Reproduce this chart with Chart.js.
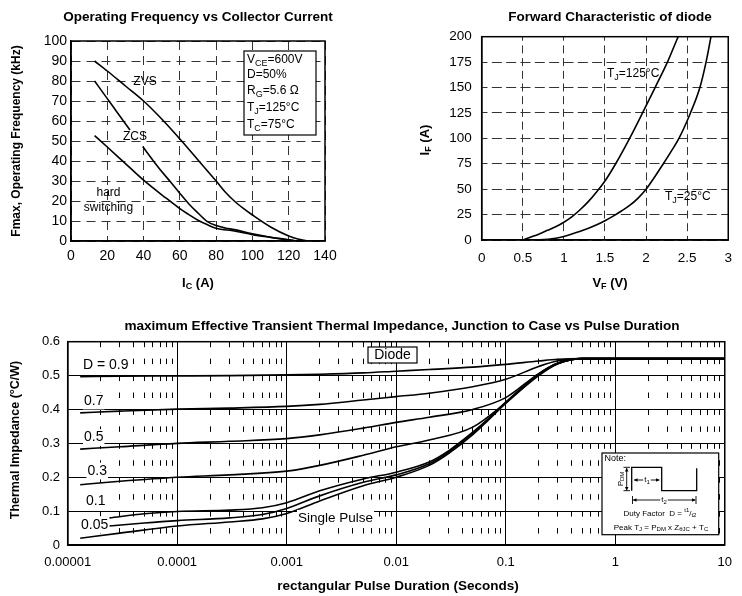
<!DOCTYPE html>
<html>
<head>
<meta charset="utf-8">
<title>IGBT module curves</title>
<script src="https://cdn.jsdelivr.net/npm/chart.js@4"></script>
<style>
  html, body { margin: 0; padding: 0; background: #fff; }
  body { position: relative; width: 742px; height: 596px; overflow: hidden; }
  canvas { position: absolute; }
</style>
</head>
<body>
<canvas id="freq" width="350" height="295" style="left:0;top:0"></canvas>
<canvas id="diode" width="342" height="295" style="left:400px;top:0"></canvas>
<canvas id="zth" width="742" height="296" style="left:0;top:300px"></canvas>
<script>
// ---- operating frequency vs collector current ----
const icTicks = [0, 20, 40, 60, 80, 100, 120, 140];
const icLabels = ['0', '20', '40', '60', '80', '100', '120', '140'];
const fTicks = [0, 10, 20, 30, 40, 50, 60, 70, 80, 90, 100];
const fLabels = ['0', '10', '20', '30', '40', '50', '60', '70', '80', '90', '100'];

const zvsIc = [13, 20, 30, 40, 50, 61, 70, 80, 85, 90, 95, 100, 110, 120, 125, 130];
const zvsF = [90, 85, 77.5, 70, 61, 50, 40.5, 30, 24.5, 20, 16.3, 13, 7, 2.5, 1, 0];
// gap in the ZCS curve where its label sits
const zcsIc = [13, 20, 25, 32.5, 36, 39.5, 45, 50, 55, 60, 65, 70, 75, 80, 85, 90, 100, 110, 120, 124];
const zcsF = [80, 71.2, 64.9, 55.5, null, 47.2, 40.5, 34.7, 29.4, 23.8, 18.5, 14, 9.8, 7.7, 6.5, 5.7, 3.6, 1.9, 0.6, 0];
const hardIc = [13, 20, 30, 40, 50, 55, 60, 65, 70, 75, 80, 90, 100, 110, 120, 124];
const hardF = [52.7, 47, 38.7, 30.4, 23.1, 19.7, 16.2, 13.2, 10.4, 8.2, 6.4, 5, 3.2, 1.8, 0.5, 0];

// ---- diode forward characteristic ----
const vfTicks = [0, 0.5, 1, 1.5, 2, 2.5, 3];
const vfLabels = ['0', '0.5', '1', '1.5', '2', '2.5', '3'];
const ifTicks = [0, 25, 50, 75, 100, 125, 150, 175, 200];
const ifLabels = ['0', '25', '50', '75', '100', '125', '150', '175', '200'];

const vf125 = [0.5, 0.6, 0.7, 0.8, 0.9, 1.0, 1.1, 1.2, 1.3, 1.4, 1.5, 1.63, 1.8, 1.957, 2.11, 2.26, 2.39];
const if125 = [0, 3, 6, 9.5, 13, 17.5, 23, 30, 38, 47.5, 58, 75, 100, 125, 150, 175, 200];
const vf25 = [0.5, 0.7, 0.9, 1.0, 1.2, 1.3, 1.4, 1.5, 1.6, 1.7, 1.8, 1.9, 2.0, 2.1, 2.21, 2.3, 2.4, 2.54, 2.655, 2.73, 2.79];
const if25 = [0, 0.3, 1.8, 3.5, 8.5, 11.5, 15, 19, 23.5, 28.5, 34, 41, 50, 61.5, 75, 86.5, 100, 125, 150, 175, 200];

// ---- transient thermal impedance ----
const decadeTicks = [1e-5, 1e-4, 1e-3, 1e-2, 1e-1, 1, 10];
const decadeLabels = ['0.00001', '0.0001', '0.001', '0.01', '0.1', '1', '10'];
const zTicks = [0, 0.1, 0.2, 0.3, 0.4, 0.5, 0.6];
const zLabels = ['0', '0.1', '0.2', '0.3', '0.4', '0.5', '0.6'];

const tp = [1.3e-5, 3e-5, 1e-4, 3e-4, 1e-3, 2e-3, 5e-3, 1e-2, 2e-2, 5e-2, 0.1, 0.2, 0.3, 0.5, 1, 10];
const zD09 = [0.497, 0.498, 0.499, 0.5, 0.502, 0.504, 0.508, 0.513, 0.518, 0.525, 0.533, 0.543, 0.548, 0.55, 0.55, 0.55];
const zD07 = [0.39, 0.395, 0.401, 0.404, 0.409, 0.415, 0.428, 0.438, 0.448, 0.467, 0.489, 0.527, 0.544, 0.55, 0.55, 0.55];
const zD05 = [0.283, 0.29, 0.3, 0.306, 0.314, 0.325, 0.345, 0.362, 0.377, 0.4, 0.435, 0.506, 0.537, 0.55, 0.55, 0.55];
const zD03 = [0.178, 0.188, 0.2, 0.207, 0.218, 0.235, 0.265, 0.29, 0.31, 0.348, 0.42, 0.503, 0.536, 0.55, 0.55, 0.55];

const tpLow = [2.4e-5, 5e-5, 1e-4, 3e-4, 6e-4, 1e-3, 2e-3, 5e-3, 1e-2, 2e-2, 3e-2, 5e-2, 7e-2, 0.1, 0.2, 0.3, 0.5, 1, 10];
const zD01 = [0.08, 0.092, 0.099, 0.103, 0.11, 0.125, 0.16, 0.195, 0.215, 0.245, 0.278, 0.333, 0.374, 0.422, 0.505, 0.537, 0.55, 0.55, 0.55];
const zD005 = [0.056, 0.065, 0.072, 0.08, 0.09, 0.108, 0.145, 0.185, 0.207, 0.24, 0.274, 0.33, 0.372, 0.42, 0.503, 0.536, 0.55, 0.55, 0.55];
const tpSingle = [1.3e-5, 3e-5, 1e-4, 3e-4, 6e-4, 1e-3, 2e-3, 5e-3, 1e-2, 2e-2, 3e-2, 5e-2, 7e-2, 0.1, 0.2, 0.3, 0.5, 1, 10];
const zSingle = [0.02, 0.035, 0.056, 0.068, 0.077, 0.093, 0.13, 0.175, 0.2, 0.235, 0.27, 0.326, 0.37, 0.418, 0.5, 0.535, 0.55, 0.55, 0.55];

const FONT = '"Liberation Sans", Arial, Helvetica, sans-serif';
Chart.defaults.font.family = FONT;
Chart.defaults.color = '#000';

function pts(xs, ys) {
  return xs.map((x, i) => ({ x: x, y: ys[i] }));
}

function fixed(values) {
  return s => { s.ticks = values.map(v => ({ value: v })); };
}

// minor log ticks 2..9 of every decade
const minorTicks = [];
decadeTicks.slice(0, -1).forEach(d => {
  for (let k = 2; k <= 9; k++) minorTicks.push(k * d);
});

const curve = {
  borderColor: '#000',
  borderWidth: 1.6,
  pointRadius: 0,
  fill: false,
  cubicInterpolationMode: 'monotone',
  spanGaps: false
};

// text with sub/superscripts: parts = [[text, mode]] mode 1 = sub, 2 = sup
function txt(ctx, parts, x, y, o) {
  o = o || {};
  const size = o.size || 12;
  const weight = o.bold ? 'bold ' : '';
  const fontFor = m => weight + (m ? Math.round(size * 0.72) : size) + 'px ' + FONT;
  let w = 0;
  parts.forEach(p => { ctx.font = fontFor(p[1]); w += ctx.measureText(p[0]).width; });
  ctx.save();
  ctx.translate(x, y);
  if (o.rot) ctx.rotate(o.rot);
  let cx = o.align === 'center' ? -w / 2 : (o.align === 'right' ? -w : 0);
  if (o.bg) {
    ctx.fillStyle = '#fff';
    ctx.fillRect(cx - 1, -size * 0.6, w + 2, size * 1.2);
  }
  ctx.fillStyle = '#000';
  ctx.textBaseline = 'middle';
  ctx.textAlign = 'left';
  parts.forEach(p => {
    ctx.font = fontFor(p[1]);
    const dy = p[1] === 1 ? size * 0.3 : (p[1] === 2 ? -size * 0.35 : 0);
    ctx.fillText(p[0], cx, dy);
    cx += ctx.measureText(p[0]).width;
  });
  ctx.restore();
}

function arrowHead(ctx, x, y, dx, dy) {
  const len = 3.5, wid = 1.8;
  ctx.beginPath();
  ctx.moveTo(x, y);
  ctx.lineTo(x - dx * len - dy * wid, y - dy * len + dx * wid);
  ctx.lineTo(x - dx * len + dy * wid, y - dy * len - dx * wid);
  ctx.closePath();
  ctx.fill();
}

function dblArrow(ctx, x1, y1, x2, y2) {
  const L = Math.hypot(x2 - x1, y2 - y1);
  const dx = (x2 - x1) / L, dy = (y2 - y1) / L;
  ctx.beginPath();
  ctx.moveTo(x1, y1);
  ctx.lineTo(x2, y2);
  ctx.stroke();
  arrowHead(ctx, x2, y2, dx, dy);
  arrowHead(ctx, x1, y1, -dx, -dy);
}

const frame = {
  id: 'frame',
  afterDatasetsDraw(c) {
    const a = c.chartArea, ctx = c.ctx;
    ctx.save();
    ctx.strokeStyle = '#000';
    ctx.lineWidth = 1.5;
    ctx.strokeRect(a.left, a.top, a.right - a.left, a.bottom - a.top);
    ctx.restore();
  }
};

function decor(fn) {
  return { id: 'decor', afterDraw(c) { fn(c.ctx, c); } };
}

function axisOpts(min, max, ticks, labels, size, extra) {
  return Object.assign({
    type: 'linear',
    min: min,
    max: max,
    afterBuildTicks: fixed(ticks),
    ticks: {
      autoSkip: false,
      maxRotation: 0,
      font: { size: size },
      color: '#000',
      callback: (v, i) => labels[i]
    },
    grid: { color: '#333', lineWidth: 1, drawTicks: false }
  }, extra);
}

function baseOptions(padding, scales) {
  return {
    responsive: false,
    animation: false,
    layout: { padding: padding },
    plugins: { legend: { display: false }, tooltip: { enabled: false } },
    scales: scales
  };
}

// ---------- chart 1 ----------
const s1x = axisOpts(0, 140, icTicks, icLabels, 14, {
  afterFit: s => { s.height = 54; },
  border: { color: '#000', width: 1.5, dash: [9, 6], dashOffset: 0 }
});
s1x.ticks.padding = 7;
const s1y = axisOpts(0, 100, fTicks, fLabels, 14, {
  afterFit: s => { s.width = 71; },
  border: { color: '#000', width: 1.5, dash: [9, 6], dashOffset: 0 }
});
s1y.ticks.padding = 4;

new Chart(document.getElementById('freq'), {
  type: 'line',
  data: {
    datasets: [
      Object.assign({ label: 'ZVS', data: pts(zvsIc, zvsF) }, curve),
      Object.assign({ label: 'ZCS', data: pts(zcsIc, zcsF) }, curve),
      Object.assign({ label: 'hard switching', data: pts(hardIc, hardF) }, curve)
    ]
  },
  options: baseOptions({ top: 41, right: 25, left: 0, bottom: 0 }, { x: s1x, y: s1y }),
  plugins: [frame, decor(ctx => {
    txt(ctx, [['Operating Frequency vs Collector Current']], 198, 17.5, { bold: true, size: 13.5, align: 'center' });
    txt(ctx, [['Fmax, Operating Frequency (kHz)']], 17, 141, { bold: true, align: 'center', rot: -Math.PI / 2 });
    txt(ctx, [['I'], ['C', 1], [' (A)']], 198, 283, { bold: true, size: 13, align: 'center' });
    txt(ctx, [['ZVS']], 145, 82, { align: 'center' });
    txt(ctx, [['ZCS']], 135, 137, { align: 'center' });
    txt(ctx, [['hard']], 108.5, 193, { align: 'center' });
    txt(ctx, [['switching']], 108.5, 208, { align: 'center' });
    ctx.save();
    ctx.fillStyle = '#fff';
    ctx.strokeStyle = '#000';
    ctx.lineWidth = 1.2;
    ctx.fillRect(244, 51, 72, 84);
    ctx.strokeRect(244, 51, 72, 84);
    ctx.restore();
    txt(ctx, [['V'], ['CE', 1], ['=600V']], 247, 60);
    txt(ctx, [['D=50%']], 247, 75);
    txt(ctx, [['R'], ['G', 1], ['=5.6 \u03a9']], 247, 91);
    txt(ctx, [['T'], ['J', 1], ['=125\u00b0C']], 247, 108);
    txt(ctx, [['T'], ['C', 1], ['=75\u00b0C']], 247, 124.5);
  })]
});

// ---------- chart 2 ----------
const s2x = axisOpts(0, 3, vfTicks, vfLabels, 13.5, {
  afterFit: s => { s.height = 55; },
  border: { color: '#000', width: 1.5, dash: [8, 4.7], dashOffset: 4 }
});
s2x.ticks.padding = 10;
const s2y = axisOpts(0, 200, ifTicks, ifLabels, 13.5, {
  afterFit: s => { s.width = 81.7; },
  border: { color: '#000', width: 1.5, dash: [10, 4.33], dashOffset: 5 }
});
s2y.ticks.padding = 10;

new Chart(document.getElementById('diode'), {
  type: 'line',
  data: {
    datasets: [
      Object.assign({ label: 'TJ=125', data: pts(vf125, if125) }, curve),
      Object.assign({ label: 'TJ=25', data: pts(vf25, if25) }, curve)
    ]
  },
  options: baseOptions({ top: 36.7, right: 3, left: 0, bottom: 0 }, { x: s2x, y: s2y }),
  plugins: [frame, decor(ctx => {
    txt(ctx, [['Forward Characteristic of diode']], 210, 17.5, { bold: true, size: 13.5, align: 'center' });
    txt(ctx, [['I'], ['F', 1], [' (A)']], 25, 140, { bold: true, size: 13, align: 'center', rot: -Math.PI / 2 });
    txt(ctx, [['V'], ['F', 1], [' (V)']], 210, 283, { bold: true, size: 13, align: 'center' });
    txt(ctx, [['T'], ['J', 1], ['=125\u00b0C']], 207, 74);
    txt(ctx, [['T'], ['J', 1], ['=25\u00b0C']], 265, 197);
  })]
});

// ---------- chart 3 ----------
const s3x = {
  type: 'logarithmic',
  min: 1e-5,
  max: 10,
  position: 'bottom',
  afterBuildTicks: fixed(decadeTicks),
  afterFit: s => { s.height = 51; },
  ticks: {
    autoSkip: false,
    maxRotation: 0,
    padding: 10,
    font: { size: 13 },
    color: '#000',
    callback: (v, i) => decadeLabels[i]
  },
  grid: { color: '#000', lineWidth: 1, drawTicks: false },
  border: { color: '#000', width: 1.5 }
};
const s3xMinor = {
  type: 'logarithmic',
  min: 1e-5,
  max: 10,
  position: 'bottom',
  afterBuildTicks: fixed(minorTicks),
  afterFit: s => { s.height = 0; },
  ticks: { display: false },
  grid: { color: '#000', lineWidth: 1, drawTicks: false },
  border: { display: false, dash: [5.5, 11.44], dashOffset: 0 }
};
const s3y = axisOpts(0, 0.6, zTicks, zLabels, 13, {
  afterFit: s => { s.width = 67.7; },
  grid: { color: '#000', lineWidth: 1, drawTicks: false },
  border: { color: '#000', width: 1.5 }
});
s3y.ticks.padding = 7.7;

new Chart(document.getElementById('zth'), {
  type: 'line',
  data: {
    datasets: [
      Object.assign({ label: 'D = 0.9', data: pts(tp, zD09) }, curve),
      Object.assign({ label: '0.7', data: pts(tp, zD07) }, curve),
      Object.assign({ label: '0.5', data: pts(tp, zD05) }, curve),
      Object.assign({ label: '0.3', data: pts(tp, zD03) }, curve),
      Object.assign({ label: '0.1', data: pts(tpLow, zD01) }, curve),
      Object.assign({ label: '0.05', data: pts(tpLow, zD005) }, curve),
      Object.assign({ label: 'Single Pulse', data: pts(tpSingle, zSingle) }, curve)
    ]
  },
  options: baseOptions({ top: 41.7, right: 9.7, left: 0, bottom: 0 }, { x: s3x, xm: s3xMinor, y: s3y }),
  plugins: [frame, decor(ctx => {
    txt(ctx, [['maximum Effective Transient Thermal Impedance, Junction to Case vs Pulse Duration']], 402, 25.8, { bold: true, size: 13.6, align: 'center' });
    txt(ctx, [['Thermal Impedance (\u00b0C/W)']], 16, 140, { bold: true, size: 12.5, align: 'center', rot: -Math.PI / 2 });
    txt(ctx, [['rectangular Pulse Duration (Seconds)']], 398, 286.7, { bold: true, size: 13.5, align: 'center' });

    txt(ctx, [['D = 0.9']], 83, 64.7, { size: 14, bg: true });
    txt(ctx, [['0.7']], 84, 101, { size: 14, bg: true });
    txt(ctx, [['0.5']], 84, 137.5, { size: 14, bg: true });
    txt(ctx, [['0.3']], 87.5, 171, { size: 14, bg: true });
    txt(ctx, [['0.1']], 86, 201.5, { size: 14, bg: true });
    txt(ctx, [['0.05']], 81, 224.7, { size: 14, bg: true });
    txt(ctx, [['Single Pulse']], 298, 218, { size: 13.5, bg: true });

    ctx.save();
    ctx.fillStyle = '#fff';
    ctx.strokeStyle = '#000';
    ctx.lineWidth = 1.2;
    ctx.fillRect(368, 47, 49, 16);
    ctx.strokeRect(368, 47, 49, 16);
    ctx.restore();
    txt(ctx, [['Diode']], 392.5, 55.3, { size: 14, align: 'center' });

    // note box with the pulse sketch
    ctx.save();
    ctx.fillStyle = '#fff';
    ctx.strokeStyle = '#000';
    ctx.lineWidth = 1.2;
    ctx.fillRect(602, 153, 116.7, 81.7);
    ctx.strokeRect(602, 153, 116.7, 81.7);
    ctx.lineWidth = 1.3;
    ctx.beginPath();
    ctx.moveTo(631.7, 190.7);
    ctx.lineTo(631.7, 167.3);
    ctx.lineTo(661.7, 167.3);
    ctx.lineTo(661.7, 190.7);
    ctx.lineTo(696.7, 190.7);
    ctx.lineTo(696.7, 168.3);
    ctx.stroke();
    ctx.fillStyle = '#000';
    ctx.lineWidth = 0.9;
    dblArrow(ctx, 626.7, 168, 626.7, 190.5);
    ctx.beginPath();
    ctx.moveTo(623.5, 167.3); ctx.lineTo(630, 167.3);
    ctx.moveTo(623.5, 190.7); ctx.lineTo(630, 190.7);
    ctx.stroke();
    dblArrow(ctx, 634, 180, 659.5, 180);
    dblArrow(ctx, 633, 200, 695.5, 200);
    ctx.beginPath();
    ctx.moveTo(632.5, 196); ctx.lineTo(632.5, 204);
    ctx.moveTo(696, 196); ctx.lineTo(696, 204);
    ctx.stroke();
    ctx.restore();
    txt(ctx, [['Note:']], 604.5, 158.5, { size: 9 });
    txt(ctx, [['P'], ['DM', 1]], 620.3, 179, { size: 8, align: 'center', rot: -Math.PI / 2 });
    txt(ctx, [['t'], ['1', 1]], 647, 180, { size: 8, align: 'center', bg: true });
    txt(ctx, [['t'], ['2', 1]], 664, 200, { size: 8, align: 'center', bg: true });
    txt(ctx, [['Duty Factor  D = '], ['t1', 2], ['/'], ['t2', 1]], 660, 213.3, { size: 8, align: 'center' });
    txt(ctx, [['Peak T'], ['J', 1], [' = P'], ['DM', 1], [' x Z'], ['\u03b8JC', 1], [' + T'], ['C', 1]], 661, 227.3, { size: 8, align: 'center' });
  })]
});
</script>
</body>
</html>
